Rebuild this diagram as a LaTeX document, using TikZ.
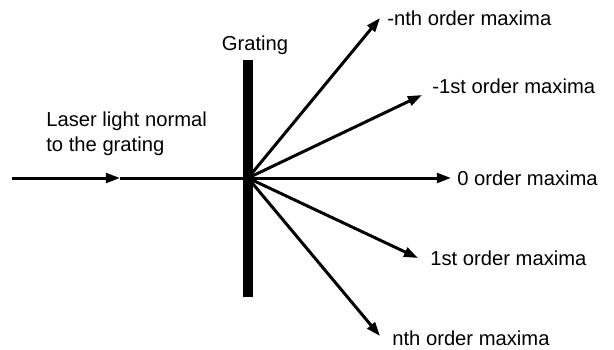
\documentclass[tikz,border=0pt]{standalone}
\usepackage{fontspec}
\setmainfont{Liberation Sans}
\usetikzlibrary{arrows.meta, positioning}

\tikzset{
  ray/.style={line width=1.7pt, -{Triangle[length=8pt, width=5.5pt]}},
  lbl/.style={font=\fontsize{11.5}{14}\selectfont, inner sep=0pt, anchor=west},
}

\begin{document}
\begin{tikzpicture}[x=0.02cm, y=-0.02cm]
\useasboundingbox (0,0) rectangle (614,349);
% Grating
\fill[black] (243,60) rectangle (253,297);
\node[lbl, anchor=center] (grating) at (255,45) {Grating};
% Incoming beam
\coordinate (o) at (248,178);
\coordinate (src) at (12,178);
\coordinate (mid) at (120,178);
\draw[ray] (src) -- (mid);
\draw[line width=1.7pt] (mid) -- (o);
\node[lbl, anchor=north west, align=left] (laser) at (46,112) {Laser light normal\\to the grating};
% Diffracted orders
\coordinate (tmn) at (380,18);
\coordinate (tm1) at (422,95);
\coordinate (t0) at (451,178);
\coordinate (t1) at (418,258);
\coordinate (tn) at (380,336);
\draw[ray] (o) -- (tmn);
\draw[ray] (o) -- (tm1);
\draw[ray] (o) -- (t0);
\draw[ray] (o) -- (t1);
\draw[ray] (o) -- (tn);
\node[lbl] (omn) at (387,18) {-nth order maxima};
\node[lbl] (om1) at (432,86) {-1st order maxima};
\node[lbl] (o0) at (457,178) {0 order maxima};
\node[lbl] (o1) at (430,258) {1st order maxima};
\node[lbl] (on) at (392,338) {nth order maxima};
\end{tikzpicture}
\end{document}
